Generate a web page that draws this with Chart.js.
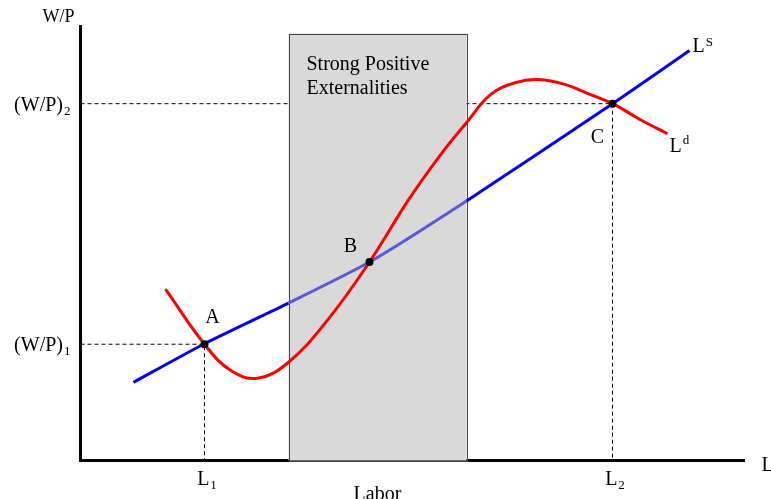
<!DOCTYPE html>
<html>
<head>
<meta charset="utf-8">
<script src="https://cdn.jsdelivr.net/npm/chart.js@4"></script>
<style>
  body { margin: 0; background: #fff; }
</style>
</head>
<body>
<canvas id="laborChart" width="771" height="499"></canvas>
<script>
const supplyL = [53, 123, 208, 289, 386, 532, 609];
const supplyW = [78, 116, 157, 198, 259, 356, 409];
const demandL = [85, 124, 150, 177, 208, 247, 289, 328, 360, 386, 410, 435, 458, 485, 510, 532, 560, 587];
const demandW = [171, 116, 90, 82, 98, 140, 198, 260, 305, 337, 365, 377, 380, 375, 365, 356, 340, 326];
const eqNames = ['A', 'B', 'C'];
const eqL = [124, 289, 532];
const eqW = [116, 198, 356];
const externalityL = [208, 386];   // shaded range on the labor axis
const externalityTop = 426;
const boxText = ['Strong Positive', 'Externalities'];

const FONT = '"Liberation Serif", "Times New Roman", serif';

const toPoints = (xs, ys) => xs.map((v, i) => ({ x: v, y: ys[i] }));

// draw text with a small sub/superscript after it
function drawScript(ctx, main, small, x, y, align, shift) {
    ctx.font = '20px ' + FONT;
    const w1 = ctx.measureText(main).width;
    ctx.font = '13px ' + FONT;
    const w2 = ctx.measureText(small).width;
    let left = x;
    if (align === 'center') left = x - (w1 + w2) / 2;
    if (align === 'right') left = x - w1 - w2;
    ctx.textAlign = 'left';
    ctx.font = '20px ' + FONT;
    ctx.fillText(main, left, y);
    ctx.font = '13px ' + FONT;
    ctx.fillText(small, left + w1 + 1, y + shift);
}

const boxPlugin = {
    id: 'externalityBox',
    beforeDatasetDraw(chart, args) {
        if (args.index !== 2) return;
        const { ctx, scales: { x, y } } = chart;
        const x0 = x.getPixelForValue(externalityL[0]);
        const x1 = x.getPixelForValue(externalityL[1]);
        const yt = y.getPixelForValue(externalityTop);
        const yb = y.getPixelForValue(0);
        ctx.save();
        ctx.fillStyle = '#d9d9d9';
        ctx.fillRect(x0, yt, x1 - x0, yb - yt);
        ctx.strokeStyle = '#444';
        ctx.lineWidth = 1;
        ctx.strokeRect(Math.round(x0) + 0.5, Math.round(yt) + 0.5, Math.round(x1 - x0), yb - yt);
        ctx.fillStyle = '#000';
        ctx.font = '20px ' + FONT;
        ctx.textAlign = 'left';
        ctx.textBaseline = 'alphabetic';
        ctx.fillText(boxText[0], x0 + 18, yt + 36);
        ctx.fillText(boxText[1], x0 + 18, yt + 60);
        ctx.restore();
    }
};

const labelPlugin = {
    id: 'labels',
    afterDraw(chart) {
        const { ctx, chartArea: area, scales: { x, y } } = chart;
        ctx.save();
        ctx.fillStyle = '#000';
        ctx.textBaseline = 'alphabetic';

        // axis names
        ctx.font = '18px ' + FONT;
        ctx.textAlign = 'center';
        ctx.fillText('W/P', area.left - 22, 22);
        ctx.font = '20px ' + FONT;
        ctx.textAlign = 'left';
        ctx.fillText('L', area.right + 17, area.bottom + 10);
        ctx.textAlign = 'center';
        ctx.fillText('Labor', x.getPixelForValue((externalityL[0] + externalityL[1]) / 2), area.bottom + 39);

        // wage levels and labor levels at A and C
        drawScript(ctx, '(W/P)', '1', area.left - 11, y.getPixelForValue(eqW[0]) + 7, 'right', 4);
        drawScript(ctx, '(W/P)', '2', area.left - 11, y.getPixelForValue(eqW[2]) + 7, 'right', 4);
        drawScript(ctx, 'L', '1', x.getPixelForValue(eqL[0]) + 2, area.bottom + 24, 'center', 4);
        drawScript(ctx, 'L', '2', x.getPixelForValue(eqL[2]) + 2, area.bottom + 24, 'center', 4);

        // point names
        ctx.font = '20px ' + FONT;
        ctx.textAlign = 'center';
        const offs = [[8, -21], [-19, -10], [-15, 39]];
        eqNames.forEach((n, i) => {
            ctx.fillText(n, x.getPixelForValue(eqL[i]) + offs[i][0], y.getPixelForValue(eqW[i]) + offs[i][1]);
        });

        // curve names
        const sEnd = supplyL.length - 1;
        drawScript(ctx, 'L', 'S', x.getPixelForValue(supplyL[sEnd]) + 3, y.getPixelForValue(supplyW[sEnd]) + 1, 'left', -6);
        const dEnd = demandL.length - 1;
        drawScript(ctx, 'L', 'd', x.getPixelForValue(demandL[dEnd]) + 2, y.getPixelForValue(demandW[dEnd]) + 18, 'left', -8);
        ctx.restore();
    }
};

const ctx = document.getElementById('laborChart').getContext('2d');
const myChart = new Chart(ctx, {
    type: 'line',
    data: {
        datasets: [
            {
                label: 'Equilibria',
                type: 'scatter',
                data: toPoints(eqL, eqW),
                pointRadius: 4,
                pointBackgroundColor: '#000',
                pointBorderWidth: 0,
                order: 0
            },
            {
                label: 'Ld',
                data: toPoints(demandL, demandW),
                borderColor: '#ff0000',
                borderWidth: 3,
                pointRadius: 0,
                tension: 0.4,
                order: 1
            },
            {
                label: 'LS',
                data: toPoints(supplyL, supplyW),
                borderColor: '#0000ff',
                borderWidth: 3,
                pointRadius: 0,
                tension: 0.2,
                segment: {
                    borderColor: c => (c.p0.parsed.x >= externalityL[0] && c.p1.parsed.x <= externalityL[1]) ? '#5a5ad8' : '#0000ff'
                },
                order: 2
            },
            {
                label: 'level 2',
                data: [{ x: 0, y: eqW[2] }, { x: eqL[2], y: eqW[2] }, { x: eqL[2], y: 0 }],
                borderColor: '#000',
                borderWidth: 1,
                borderDash: [4, 3],
                pointRadius: 0,
                order: 4
            },
            {
                label: 'level 1',
                data: [{ x: 0, y: eqW[0] }, { x: eqL[0], y: eqW[0] }, { x: eqL[0], y: 0 }],
                borderColor: '#000',
                borderWidth: 1,
                borderDash: [4, 3],
                pointRadius: 0,
                order: 5
            }
        ]
    },
    options: {
        responsive: false,
        animation: false,
        layout: { padding: { left: 80.5, right: 26.5, top: 26.5, bottom: 38.5 } },
        plugins: { legend: { display: false }, tooltip: { enabled: false } },
        scales: {
            x: {
                type: 'linear',
                min: 0,
                max: 664,
                grid: { display: false, drawTicks: false },
                ticks: { display: false },
                border: { display: true, color: '#000', width: 3 }
            },
            y: {
                type: 'linear',
                min: 0,
                max: 433,
                grid: { display: false, drawTicks: false },
                ticks: { display: false },
                border: { display: true, color: '#000', width: 3 }
            }
        }
    },
    plugins: [boxPlugin, labelPlugin]
});
</script>
</body>
</html>
